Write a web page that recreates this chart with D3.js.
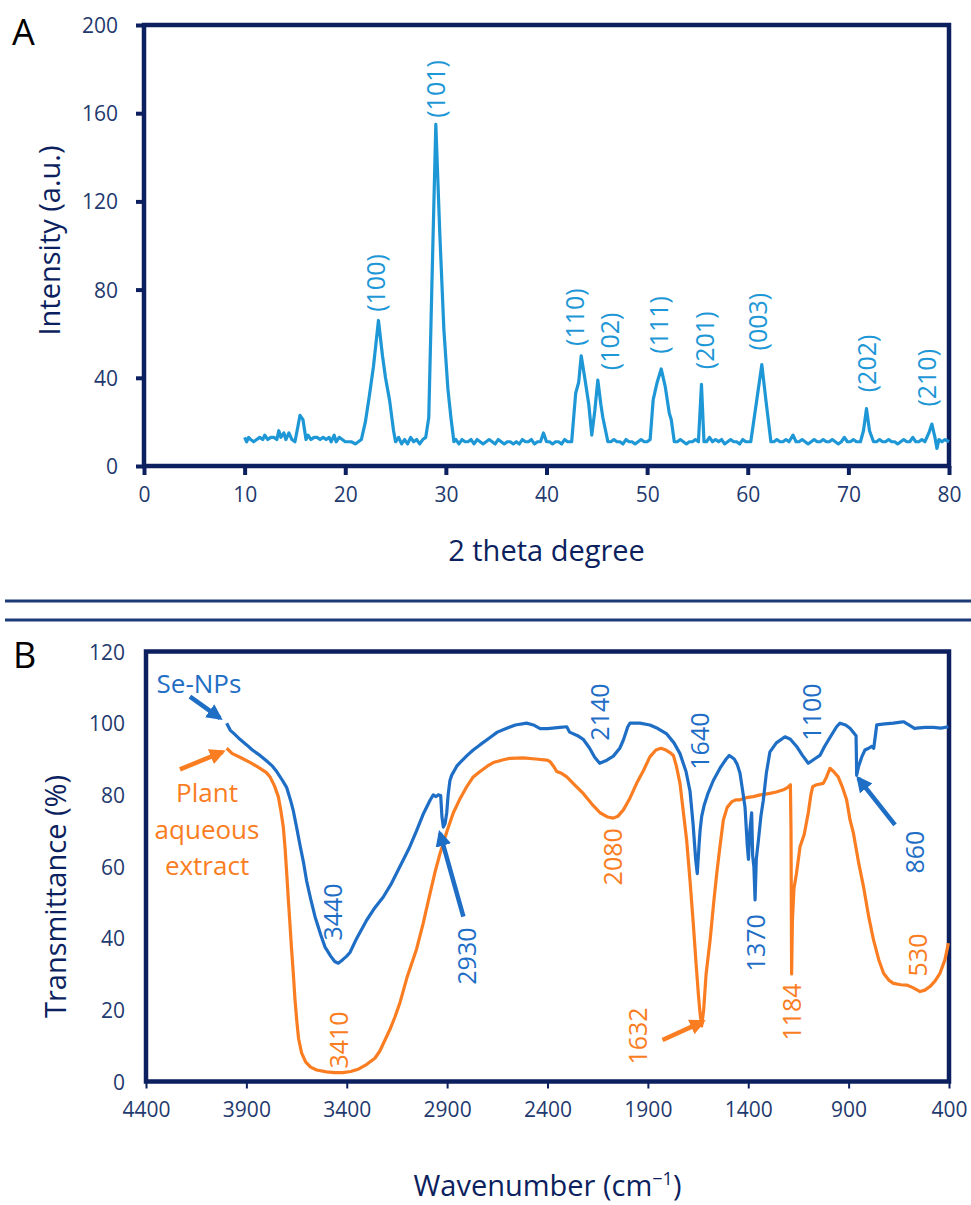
<!DOCTYPE html>
<html>
<head>
<meta charset="utf-8">
<script src="https://cdn.jsdelivr.net/npm/d3@7"></script>
<style>
  html, body { margin: 0; padding: 0; background: #fff; }
  svg { display: block; font-family: "Open Sans", "DejaVu Sans", sans-serif; }
</style>
</head>
<body>
<svg id="fig" width="971" height="1205"></svg>
<script>
// ---------- Panel A: XRD pattern ----------
const xrdTicksX = [0, 10, 20, 30, 40, 50, 60, 70, 80];
const xrdTicksY = [0, 40, 80, 120, 160, 200];
// [2θ (deg), intensity (a.u.)]
const xrdPattern = [
  [10.0,13],[10.2,11],[10.4,13],[10.6,12],[10.9,11],[11.2,12],[11.5,13],[11.8,12],[12.0,14],[12.3,12],
  [12.6,13],[12.9,13],[13.2,12],[13.4,16],[13.6,13],[13.9,15],[14.1,12],[14.4,15],[14.7,12],[15.0,11],
  [15.3,18],[15.5,23],[15.8,21],[16.1,12],[16.3,14],[16.6,12],[16.9,13],[17.2,13],[17.5,12],[17.8,13],
  [18.1,12],[18.4,13],[18.6,11],[18.9,14],[19.1,11],[19.4,13],[19.7,12],[20.0,11],[20.3,11],[20.6,11],
  [21.0,10],[21.3,11],[21.6,12],[22.0,20],[22.4,32],[22.8,45],[23.3,66],[23.7,50],[24.0,40],[24.4,30],
  [24.8,16],[25.0,11],[25.3,13],[25.6,10],[25.9,12],[26.2,10],[26.5,13],[26.8,11],[27.1,12],[27.4,10],
  [27.7,12],[28.0,13],[28.3,22],[28.6,80],[29.0,155],[29.4,105],[29.8,62],[30.2,35],[30.5,22],[30.8,11],
  [31.0,12],[31.3,10],[31.6,12],[31.9,11],[32.2,11],[32.5,12],[32.8,10],[33.1,12],[33.4,11],[33.7,10],
  [34.0,11],[34.3,12],[34.6,11],[34.9,10],[35.2,12],[35.5,11],[35.8,10],[36.1,11],[36.4,11],[36.7,10],
  [37.0,11],[37.3,10],[37.6,12],[37.9,11],[38.2,11],[38.5,12],[38.8,10],[39.1,11],[39.4,11],[39.7,15],
  [40.0,11],[40.3,11],[40.6,10],[40.9,11],[41.2,11],[41.5,10],[41.8,12],[42.1,11],[42.5,11],[42.9,33],
  [43.2,38],[43.45,50],[43.8,40],[44.2,28],[44.5,14],[44.8,25],[45.1,39],[45.4,28],[45.6,22],[46.1,11],
  [46.4,11],[46.7,12],[47.0,11],[47.3,11],[47.6,10],[47.9,12],[48.2,11],[48.5,11],[48.8,10],[49.1,11],
  [49.4,12],[49.7,11],[50.0,11],[50.3,12],[50.6,30],[51.0,38],[51.4,44],[51.8,36],[52.2,24],[52.4,21],
  [52.7,11],[53.0,11],[53.3,12],[53.6,11],[53.9,10],[54.2,11],[54.5,11],[54.8,12],[55.1,11],[55.4,37],
  [55.65,11],[55.9,11],[56.2,13],[56.5,11],[56.8,12],[57.1,11],[57.4,12],[57.7,10],[58.0,11],[58.3,12],
  [58.6,11],[58.9,11],[59.2,10],[59.5,12],[59.8,11],[60.3,11],[60.9,30],[61.4,46],[61.8,30],[62.3,11],
  [62.6,11],[62.9,12],[63.2,11],[63.5,11],[63.8,12],[64.1,11],[64.5,14],[64.8,11],[65.1,11],[65.4,12],
  [65.7,11],[66.0,10],[66.3,11],[66.6,12],[66.9,11],[67.2,11],[67.5,12],[67.8,11],[68.1,11],[68.4,12],
  [68.7,11],[69.0,10],[69.3,11],[69.6,13],[69.9,11],[70.2,11],[70.5,12],[70.8,11],[71.2,11],[71.5,16],
  [71.8,26],[72.1,16],[72.5,11],[72.8,11],[73.1,12],[73.4,11],[73.7,11],[74.0,12],[74.3,11],[74.6,11],
  [74.9,10],[75.2,11],[75.5,12],[75.8,11],[76.1,11],[76.4,13],[76.7,11],[77.0,11],[77.3,12],[77.6,11],
  [78.0,15],[78.3,19],[78.6,13],[78.8,8],[79.0,12],[79.3,11],[79.6,12],[80.0,11]
];
const hklLabels = ["(100)", "(101)", "(110)", "(102)", "(111)", "(201)", "(003)", "(202)", "(210)"];
const hklTheta  = [23.1, 29.0, 42.8, 46.3, 51.2, 55.75, 61.0, 71.85, 77.8];
const hklLevel  = [83, 171, 67.5, 56.5, 64, 57, 65.5, 46.5, 40];

// ---------- Panel B: FTIR spectra ----------
const ftirTicksX = [4400, 3900, 3400, 2900, 2400, 1900, 1400, 900, 400];
const ftirTicksY = [0, 20, 40, 60, 80, 100, 120];
// [wavenumber (cm-1), transmittance (%)]
const seNPs = [
  [3998,100],[3980,98],[3960,97],[3932,95.5],[3900,94],[3870,92.5],[3832,91],[3800,89.5],[3770,88],[3749,86.5],
  [3720,84],[3699,82],[3680,78.5],[3666,75.5],[3650,71],[3633,66],[3615,61],[3600,56],[3580,51],[3558,46],
  [3530,41],[3508,37.5],[3480,35],[3460,33.5],[3442,33],[3420,34],[3400,35],[3384,36],[3350,40],[3301,45],
  [3260,48.5],[3218,51.5],[3180,55],[3135,60],[3090,65],[3052,70],[3020,74.5],[2985,78.5],[2969,80],[2955,79.5],
  [2944,80],[2932,79.8],[2926,74],[2919,71],[2910,72],[2902,75],[2895,80],[2886,84],[2877,85.5],[2852,88],
  [2836,89],[2800,91],[2770,92.5],[2735,94],[2686,96],[2650,97.5],[2603,98.6],[2560,99.5],[2504,100],[2470,99.5],
  [2437,98.5],[2400,98.5],[2338,98.8],[2304,99],[2290,97.5],[2250,96.5],[2222,95.5],[2190,93],[2165,90.5],[2140,88.8],
  [2110,89.5],[2072,90.8],[2040,93],[2022,95.3],[2000,99],[1989,100],[1940,100],[1890,99.5],[1850,98.5],[1806,97],
  [1770,94.5],[1740,91.5],[1710,86.5],[1690,81],[1675,72],[1662,62],[1654,58],[1645,66],[1640,70],[1632,74],
  [1620,77],[1600,80.5],[1574,84],[1540,87.5],[1510,90],[1494,91],[1470,90],[1455,88.5],[1441,86],[1425,80],
  [1416,76.5],[1405,66],[1399,62],[1392,70],[1383,75],[1378,63],[1372,60],[1366,50.7],[1360,62],[1350,67],
  [1337,74],[1325,78.5],[1310,86],[1292,92],[1260,94.5],[1217,96.2],[1190,95.5],[1159,93.5],[1130,91],[1101,88.8],
  [1070,90],[1043,91],[1020,93.5],[993,96],[960,99],[943,100],[915,99.5],[893,98.6],[870,97],[863,96.5],
  [861,90],[860,85.5],[850,88],[835,90.5],[819,92.5],[800,93],[785,93.5],[775,93],[768,96],[760,99.5],
  [720,99.8],[677,100],[640,100.3],[627,100.4],[600,99.5],[570,98.5],[561,98.6],[520,98.8],[478,98.8],[440,98.6],
  [403,99]
];
const plantExtract = [
  [3998,93],[3970,91.5],[3932,90.5],[3880,89],[3832,87.4],[3800,86.2],[3782,85],[3760,82.5],[3741,79.5],[3728,75.5],
  [3716,71],[3707,65],[3699,58],[3690,50],[3683,44],[3675,37],[3666,30],[3658,23],[3649,17],[3640,12],
  [3625,8],[3605,5.5],[3580,4],[3550,3.2],[3500,2.7],[3460,2.5],[3420,2.5],[3380,2.8],[3340,3.5],[3300,4.8],
  [3260,6.5],[3235,8.5],[3210,11.5],[3185,14.5],[3160,18],[3135,22],[3100,29],[3070,34],[3052,37],[3020,44],
  [2985,52.5],[2960,58.5],[2935,63.7],[2900,70],[2869,75],[2835,79],[2802,82.3],[2770,85],[2736,86.5],[2700,88],
  [2670,89],[2620,89.8],[2587,90.2],[2520,90.3],[2460,90],[2404,89.7],[2388,89.3],[2370,88],[2354,86.5],[2330,86],
  [2304,85],[2260,82.5],[2222,80.4],[2180,77.5],[2138,75],[2100,73.8],[2072,73.5],[2050,74],[2022,75.8],[1990,79],
  [1956,83.2],[1920,87],[1890,90.6],[1860,92.5],[1835,93],[1810,92.5],[1790,91.8],[1773,91],[1758,88],[1740,83.2],
  [1725,76],[1707,67.4],[1690,56],[1674,44.2],[1660,33],[1648,24],[1640,19],[1632,15.5],[1622,20],[1610,30],
  [1590,39.5],[1572,50],[1557,58],[1540,66],[1524,73],[1505,76.5],[1482,78.1],[1460,78.6],[1441,78.6],[1410,79.2],
  [1375,79.5],[1340,80],[1292,80.4],[1260,80.8],[1225,81.4],[1205,82],[1190,82.8],[1187,70],[1184,30],[1180,45],
  [1172,54],[1160,58],[1142,65.5],[1121,69],[1101,75],[1088,80],[1079,82.3],[1060,82.8],[1026,83.2],[1010,85],
  [993,87.4],[975,86.5],[952,85],[930,82],[910,78.6],[893,73],[876,69.3],[850,61],[826,54.4],[800,46],
  [776,39.5],[750,34],[726,30.2],[700,28.3],[677,27.4],[640,27],[611,26.9],[580,26.2],[544,25.1],[520,25.5],
  [495,26.5],[470,28],[445,30.2],[420,34],[403,38.6]
];
// band labels: text, series, position (wavenumber, transmittance) of the label centre
const bandText   = ["3440", "2930", "2140", "1640", "1100", "1370", "860", "2080", "530", "1184", "1632", "3410"];
const bandSeries = ["se", "se", "se", "se", "se", "se", "se", "pl", "pl", "pl", "pl", "pl"];
const bandWave   = [3468, 2801, 2138, 1640, 1082, 1361, 569, 2074, 554, 1182, 1949, 3439];
const bandLevel  = [47.3, 35.0, 103.1, 95.0, 103.1, 38.7, 64.0, 62.7, 35.3, 19.4, 12.7, 11.6];
// arrows: [from wavenumber, from %, to wavenumber, to %]
const arrowSe    = [[4181, 107.4, 4031, 101.4], [2819, 46, 2936, 69.3], [669, 71.6, 852, 84.6]];
const arrowPl    = [[4231, 87.1, 4018, 92], [1827, 11.6, 1626, 16.7]];

// ---------- styling ----------
const navy = "#0c1f5e";
const tickText = "#1f3a6e";
const xrdColor = "#1e97d6";
const seColor = "#1f6ec6";
const plColor = "#fa7d22";

const svg = d3.select("#fig");

// Panel A scales
const A = { left: 144, right: 949, top: 25, bottom: 466 };
const xA = d3.scaleLinear().domain([0, 80]).range([A.left, A.right]);
const yA = d3.scaleLinear().domain([0, 200]).range([A.bottom, A.top]);

// Panel B scales
const B = { left: 146, right: 949, top: 651.5, bottom: 1081.5 };
const xB = d3.scaleLinear().domain([4400, 400]).range([B.left, B.right]);
const yB = d3.scaleLinear().domain([0, 120]).range([B.bottom, B.top]);

// ---------- Panel A ----------
svg.append("text").attr("x", 12).attr("y", 45).attr("font-size", 36).attr("fill", "#000").text("A");

const axA_x = svg.append("g").attr("transform", `translate(0,${A.bottom})`)
  .call(d3.axisBottom(xA).tickValues(xrdTicksX).tickSize(9).tickPadding(12).tickFormat(d3.format("d")));
const axA_y = svg.append("g").attr("transform", `translate(${A.left},0)`)
  .call(d3.axisLeft(yA).tickValues(xrdTicksY).tickSize(8).tickPadding(18).tickFormat(d3.format("d")));
[axA_x, axA_y].forEach(g => {
  g.select(".domain").remove();
  g.selectAll(".tick line").attr("stroke", navy).attr("stroke-width", 4);
  g.selectAll(".tick text").attr("fill", tickText).attr("font-size", 21)
    .attr("font-family", "'Open Sans', sans-serif");
});
axA_y.selectAll(".tick text").attr("dy", "0.36em");

svg.append("rect").attr("x", A.left).attr("y", A.top)
  .attr("width", A.right - A.left).attr("height", A.bottom - A.top)
  .attr("fill", "none").attr("stroke", navy).attr("stroke-width", 4.5);

svg.append("path").datum(xrdPattern)
  .attr("fill", "none").attr("stroke", xrdColor).attr("stroke-width", 3.2)
  .attr("stroke-linejoin", "round")
  .attr("d", d3.line().x(d => xA(d[0])).y(d => yA(d[1])));

svg.append("g").selectAll("text").data(hklLabels).join("text")
  .attr("transform", (d, i) => `translate(${xA(hklTheta[i])},${yA(hklLevel[i])}) rotate(-90)`)
  .attr("text-anchor", "middle").attr("dy", "0.36em")
  .attr("font-size", 25).attr("fill", xrdColor)
  .text(d => d);

svg.append("text").attr("transform", `translate(50,${(A.top + A.bottom) / 2 - 5}) rotate(-90)`)
  .attr("text-anchor", "middle").attr("dy", "0.36em")
  .attr("font-size", 29).attr("fill", navy).text("Intensity (a.u.)");
svg.append("text").attr("x", (A.left + A.right) / 2).attr("y", 561)
  .attr("text-anchor", "middle").attr("font-size", 29).attr("fill", navy).text("2 theta degree");

// separator
[601, 620].forEach(y => {
  svg.append("line").attr("x1", 5).attr("x2", 971).attr("y1", y).attr("y2", y)
    .attr("stroke", "#1d3a78").attr("stroke-width", 3);
});

// ---------- Panel B ----------
svg.append("text").attr("x", 13).attr("y", 668).attr("font-size", 36).attr("fill", "#000").text("B");

const axB_x = svg.append("g").attr("transform", `translate(0,${B.bottom})`)
  .call(d3.axisBottom(xB).tickValues(ftirTicksX).tickSize(7).tickPadding(14).tickFormat(d3.format("d")));
const axB_y = svg.append("g").attr("transform", `translate(${B.left},0)`)
  .call(d3.axisLeft(yB).tickValues(ftirTicksY).tickSize(0).tickPadding(21).tickFormat(d3.format("d")));
[axB_x, axB_y].forEach(g => {
  g.select(".domain").remove();
  g.selectAll(".tick line").attr("stroke", navy).attr("stroke-width", 2);
  g.selectAll(".tick text").attr("fill", tickText).attr("font-size", 21)
    .attr("font-family", "'Open Sans', sans-serif");
});
axB_y.selectAll(".tick text").attr("dy", "0.36em");

svg.append("rect").attr("x", B.left).attr("y", B.top)
  .attr("width", B.right - B.left).attr("height", B.bottom - B.top)
  .attr("fill", "none").attr("stroke", navy).attr("stroke-width", 4.5);

const lineB = d3.line().x(d => xB(d[0])).y(d => yB(d[1]));
svg.append("path").datum(plantExtract)
  .attr("fill", "none").attr("stroke", plColor).attr("stroke-width", 3.2)
  .attr("stroke-linejoin", "round").attr("d", lineB);
svg.append("path").datum(seNPs)
  .attr("fill", "none").attr("stroke", seColor).attr("stroke-width", 3.2)
  .attr("stroke-linejoin", "round").attr("d", lineB);

// arrow heads
const defs = svg.append("defs");
[["headSe", seColor], ["headPl", plColor]].forEach(([id, c]) => {
  defs.append("marker").attr("id", id).attr("viewBox", "0 0 10 10")
    .attr("refX", 8).attr("refY", 5).attr("markerWidth", 16).attr("markerHeight", 16)
    .attr("markerUnits", "userSpaceOnUse").attr("orient", "auto")
    .append("path").attr("d", "M0,0 L10,5 L0,10 Z").attr("fill", c);
});
const drawArrows = (list, color, head) => {
  svg.append("g").selectAll("line").data(list).join("line")
    .attr("x1", d => xB(d[0])).attr("y1", d => yB(d[1]))
    .attr("x2", d => xB(d[2])).attr("y2", d => yB(d[3]))
    .attr("stroke", color).attr("stroke-width", 4.5)
    .attr("marker-end", `url(#${head})`);
};
drawArrows(arrowSe, seColor, "headSe");
drawArrows(arrowPl, plColor, "headPl");

svg.append("g").selectAll("text").data(bandText).join("text")
  .attr("transform", (d, i) => `translate(${xB(bandWave[i])},${yB(bandLevel[i])}) rotate(-90)`)
  .attr("text-anchor", "middle").attr("dy", "0.36em")
  .attr("font-size", 25)
  .attr("fill", (d, i) => bandSeries[i] === "se" ? seColor : plColor)
  .text(d => d);

// series names
svg.append("text").attr("x", xB(4136)).attr("y", yB(108.4))
  .attr("text-anchor", "middle").attr("font-size", 26).attr("fill", seColor).text("Se-NPs");
const plantLines = ["Plant", "aqueous", "extract"];
const plantLevels = [78.0, 67.7, 57.6];
svg.append("g").selectAll("text").data(plantLines).join("text")
  .attr("x", xB(4096)).attr("y", (d, i) => yB(plantLevels[i]))
  .attr("text-anchor", "middle").attr("font-size", 26).attr("fill", plColor).text(d => d);

svg.append("text").attr("transform", `translate(56,${(B.top + B.bottom) / 2 + 30}) rotate(-90)`)
  .attr("text-anchor", "middle").attr("dy", "0.36em")
  .attr("font-size", 29).attr("fill", navy).text("Transmittance (%)");
const xt = svg.append("text").attr("x", (B.left + B.right) / 2).attr("y", 1196)
  .attr("text-anchor", "middle").attr("font-size", 29).attr("fill", navy);
xt.append("tspan").text("Wavenumber (cm");
xt.append("tspan").attr("font-size", 18).attr("dy", -11).text("\u22121");
xt.append("tspan").attr("dy", 11).text(")");
</script>
</body>
</html>
